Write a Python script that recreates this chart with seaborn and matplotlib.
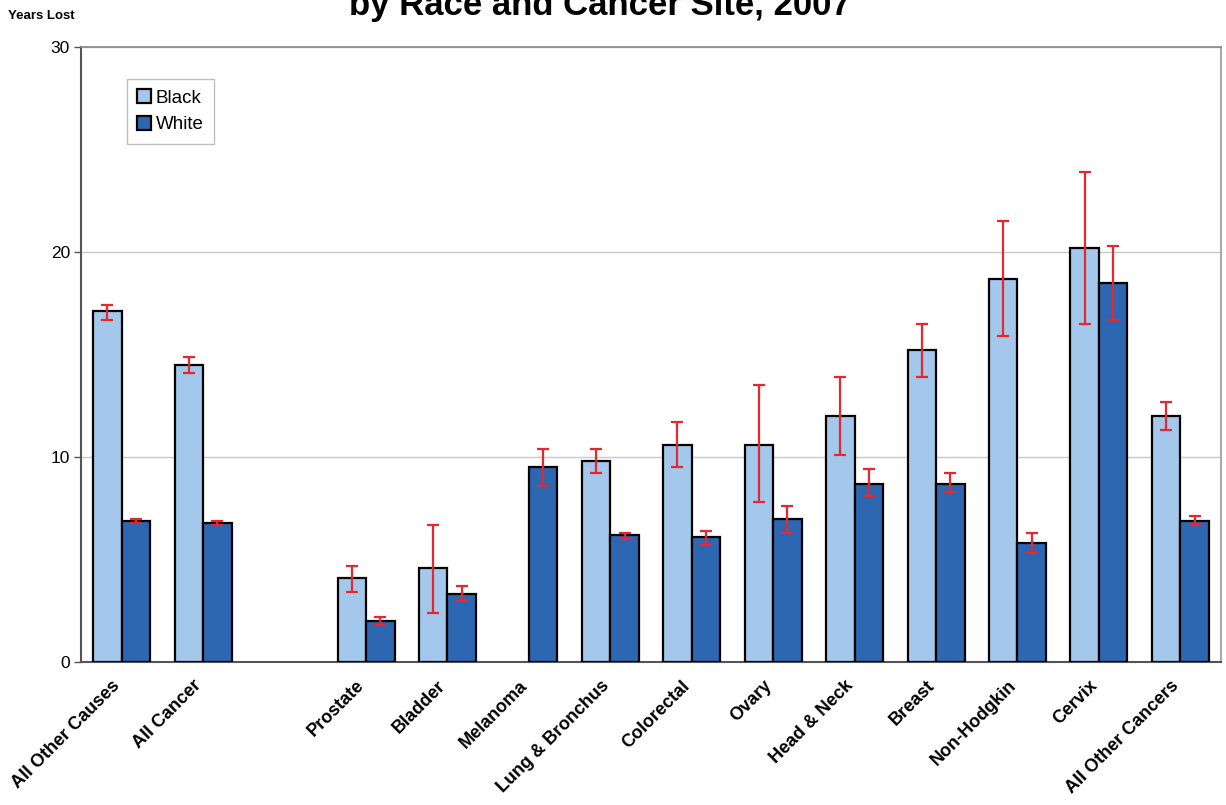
import numpy as np
import pandas as pd
import seaborn as sns
import matplotlib
matplotlib.use("Agg")
import matplotlib.pyplot as plt
from matplotlib.transforms import ScaledTranslation

# Cancer sites (a blank slot separates the overall groups from the individual sites)
sites = ["All Other Causes", "All Cancer", "Prostate", "Bladder", "Melanoma",
         "Lung & Bronchus", "Colorectal", "Ovary", "Head & Neck", "Breast",
         "Non-Hodgkin", "Cervix", "All Other Cancers"]
order = ["All Other Causes", "All Cancer", "", "Prostate", "Bladder", "Melanoma",
         "Lung & Bronchus", "Colorectal", "Ovary", "Head & Neck", "Breast",
         "Non-Hodgkin", "Cervix", "All Other Cancers"]

# Years of life lost, with 95% confidence bounds
black = [17.1, 14.5, 4.1, 4.6, np.nan, 9.8, 10.6, 10.6, 12.0, 15.2, 18.7, 20.2, 12.0]
black_lo = [16.7, 14.1, 3.4, 2.4, np.nan, 9.2, 9.5, 7.8, 10.1, 13.9, 15.9, 16.5, 11.3]
black_hi = [17.4, 14.9, 4.7, 6.7, np.nan, 10.4, 11.7, 13.5, 13.9, 16.5, 21.5, 23.9, 12.7]
white = [6.9, 6.8, 2.0, 3.3, 9.5, 6.2, 6.1, 7.0, 8.7, 8.7, 5.8, 18.5, 6.9]
white_lo = [6.8, 6.7, 1.8, 3.0, 8.6, 6.0, 5.7, 6.3, 8.1, 8.3, 5.3, 16.7, 6.7]
white_hi = [7.0, 6.9, 2.2, 3.7, 10.4, 6.3, 6.4, 7.6, 9.4, 9.2, 6.3, 20.3, 7.1]

races = ["Black", "White"]
colors = {"Black": "#A4C8EB", "White": "#2D67B1"}

df = pd.concat([
    pd.DataFrame({"site": sites, "race": "Black", "years": black,
                  "lo": black_lo, "hi": black_hi}),
    pd.DataFrame({"site": sites, "race": "White", "years": white,
                  "lo": white_lo, "hi": white_hi}),
], ignore_index=True)

sns.set_theme(style="white")
plt.rcParams["font.family"] = ["Liberation Sans", "DejaVu Sans"]
plt.rcParams["text.color"] = "black"
plt.rcParams["xtick.labelcolor"] = "black"
plt.rcParams["ytick.labelcolor"] = "black"

fig = plt.figure(figsize=(12.26, 8.05), dpi=100)
ax = fig.add_axes([81 / 1226, 1 - 662 / 805, 1140 / 1226, 615 / 805])

sns.barplot(data=df.dropna(subset=["years"]), x="site", y="years", hue="race",
            order=order, hue_order=races, palette=colors, saturation=1,
            width=0.7, edgecolor="black", linewidth=1.6, errorbar=None,
            ax=ax, zorder=3)

# Confidence intervals drawn on each bar
for race, container in zip(races, ax.containers):
    sub = df[df["race"] == race].set_index("site")
    for bar in container:
        xc = bar.get_x() + bar.get_width() / 2
        site = order[int(round(xc))]
        row = sub.loc[site]
        h = bar.get_height()
        ax.errorbar(xc, h, yerr=[[h - row["lo"]], [row["hi"] - h]],
                    fmt="none", ecolor="#E8262F", elinewidth=1.6,
                    capsize=4, capthick=1.6, zorder=4)

ax.set_ylim(0, 30)
ax.set_yticks([0, 10, 20, 30])
ax.set_xlim(-0.5, len(order) - 0.5)
ax.yaxis.grid(True, color="#c8c8c8", linewidth=1, zorder=0)
ax.set_axisbelow(True)
ax.tick_params(axis="y", labelsize=12.5, length=5, width=1, color="#555555",
               labelcolor="black", left=True, pad=3)
ax.tick_params(axis="x", length=0, pad=8, labelcolor="black")
ax.set_xticks(range(len(order)))
ax.set_xticklabels(order, rotation=45, ha="right", rotation_mode="anchor",
                   fontsize=13, fontweight="bold", color="black")
shift = ScaledTranslation(-10 / 100, -4 / 100, fig.dpi_scale_trans)
for lbl in ax.get_xticklabels():
    lbl.set_transform(lbl.get_transform() + shift)
ax.set_xlabel("")
ax.set_ylabel("")

for side in ["left", "bottom"]:
    ax.spines[side].set_color("#555555")
    ax.spines[side].set_linewidth(1.5)
ax.spines["top"].set_color("#888888")
ax.spines["top"].set_linewidth(1.2)
ax.spines["right"].set_color("#aaaaaa")
ax.spines["right"].set_linewidth(1.5)

handles, labels = ax.get_legend_handles_labels()
leg = ax.legend(handles, labels, loc="upper left",
                bbox_to_anchor=(0.040, 0.948), fontsize=13.5, frameon=True,
                fancybox=False, edgecolor="#b0b0b0", handlelength=0.75,
                handleheight=0.75, handletextpad=0.25, labelspacing=0.5,
                borderpad=0.55, borderaxespad=0)
leg.get_frame().set_linewidth(1)
for t in leg.get_texts():
    t.set_color("black")

fig.text(8 / 1226, 1 - 19 / 805, "Years Lost", fontsize=9.5,
         fontweight="bold", ha="left", va="baseline", color="black")
fig.text(600 / 1226, 1 - 15 / 805, "by Race and Cancer Site, 2007",
         fontsize=25, fontweight="bold", ha="center", va="baseline",
         color="black")

fig.savefig("out.png", dpi=100)
